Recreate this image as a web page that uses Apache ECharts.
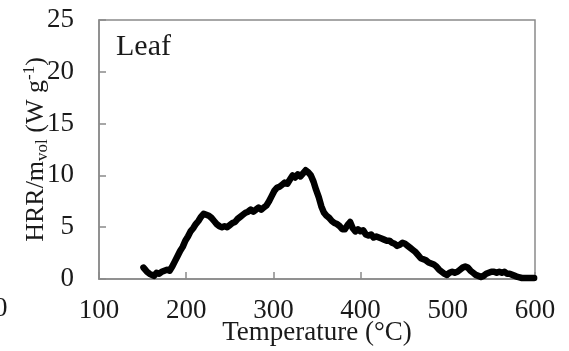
<!DOCTYPE html>
<html>
<head>
<meta charset="utf-8">
<script src="https://cdn.jsdelivr.net/npm/echarts@6/dist/echarts.min.js"></script>
<style>
html,body{margin:0;padding:0;background:#fff;}
#c{width:569px;height:351px;}
</style>
</head>
<body>
<div id="c"></div>
<script>
var temps = [151,153,155,158,160,163,166,169,172,175,178,181,184,187,190,193,196,199,202,205,208,211,214,217,220,223,226,229,232,235,238,241,244,247,250,253,256,259,262,265,268,271,274,277,280,283,286,289,292,295,298,301,304,307,310,313,316,319,322,325,328,331,334,337,340,343,346,349,352,355,358,361,364,367,370,373,376,379,382,385,388,391,394,397,400,403,406,409,412,415,418,421,424,427,430,433,436,439,442,445,448,451,454,457,460,463,466,469,472,475,478,481,484,487,490,493,496,499,502,505,508,511,514,517,520,523,526,529,532,535,538,541,544,547,550,553,556,559,562,565,568,571,574,577,580,585,590,595,599];
var hrr = [1.1,0.9,0.7,0.5,0.4,0.3,0.6,0.5,0.7,0.8,0.9,0.8,1.2,1.7,2.2,2.7,3.1,3.7,4.1,4.6,4.9,5.3,5.6,6.0,6.3,6.2,6.1,5.9,5.6,5.3,5.1,5.0,5.1,5.0,5.2,5.4,5.5,5.8,6.0,6.2,6.4,6.5,6.7,6.5,6.7,6.9,6.7,6.9,7.1,7.5,8.0,8.5,8.8,8.9,9.1,9.3,9.2,9.6,10.0,9.8,10.1,9.9,10.2,10.5,10.3,10.0,9.4,8.6,7.9,7.0,6.4,6.1,5.9,5.6,5.4,5.3,5.1,4.8,4.8,5.2,5.5,4.9,4.6,4.8,4.6,4.7,4.3,4.2,4.3,4.0,4.1,4.0,3.9,3.8,3.7,3.7,3.5,3.4,3.2,3.3,3.5,3.4,3.2,3.0,2.8,2.6,2.3,2.0,1.9,1.8,1.6,1.5,1.4,1.2,0.9,0.7,0.5,0.4,0.6,0.7,0.6,0.7,0.9,1.1,1.2,1.1,0.8,0.6,0.4,0.3,0.2,0.3,0.5,0.6,0.7,0.7,0.6,0.7,0.6,0.7,0.5,0.5,0.4,0.3,0.2,0.1,0.1,0.1,0.1];
var xTicks = [100,200,300,400,500,600];
var yTicks = [0,5,10,15,20,25];
var panelLabel = 'Leaf';
var xTitle = 'Temperature (°C)';

var FONT = '"Liberation Serif", "Times New Roman", serif';
var chart = echarts.init(document.getElementById('c'), null, {renderer:'canvas'});
var data = temps.map(function(t,i){return [t, hrr[i]];});
chart.setOption({
  animation:false,
  backgroundColor:'#fff',
  grid:{left:99,right:34,top:20,bottom:70,show:true,borderColor:'#8a8a8a',borderWidth:1.5,backgroundColor:'transparent'},
  xAxis:{
    type:'value',min:xTicks[0],max:xTicks[xTicks.length-1],interval:100,
    axisLine:{show:true,lineStyle:{color:'#8a8a8a',width:1.5}},
    axisTick:{show:true,inside:true,length:7,lineStyle:{color:'#8a8a8a',width:1.5}},
    splitLine:{show:false},
    axisLabel:{color:'#1a1a1a',fontFamily:FONT,fontSize:27,margin:18},
    name:xTitle,nameLocation:'middle',nameGap:40,nameMoveOverlap:false,
    nameTextStyle:{color:'#1a1a1a',fontFamily:FONT,fontSize:27}
  },
  yAxis:{
    type:'value',min:yTicks[0],max:yTicks[yTicks.length-1],interval:5,
    axisLine:{show:true,lineStyle:{color:'#8a8a8a',width:1.5}},
    axisTick:{show:true,inside:true,length:7,lineStyle:{color:'#8a8a8a',width:1.5}},
    splitLine:{show:false},
    axisLabel:{color:'#1a1a1a',fontFamily:FONT,fontSize:27,margin:25},
    name:'{a|HRR/m}{sub|vol}{a| (W g}{sup|-1}{a|)}',
    nameLocation:'middle',nameGap:48,nameRotate:90,nameMoveOverlap:false,
    nameTextStyle:{
      color:'#1a1a1a',fontFamily:FONT,fontSize:26,
      rich:{
        a:{fontFamily:FONT,fontSize:26,lineHeight:30,color:'#1a1a1a'},
        sub:{fontFamily:FONT,fontSize:17,lineHeight:17,verticalAlign:'bottom',color:'#1a1a1a'},
        sup:{fontFamily:FONT,fontSize:17,lineHeight:17,verticalAlign:'top',color:'#1a1a1a'}
      }
    }
  },
  graphic:[
    {type:'text',left:116,top:32,style:{text:panelLabel,font:'30px '+FONT,fill:'#1a1a1a'}},
    {type:'text',left:-6,top:295,style:{text:'0',font:'27px '+FONT,fill:'#1a1a1a'}}
  ],
  series:[{
    type:'line',data:data,showSymbol:false,symbol:'none',smooth:false,
    lineStyle:{color:'#000',width:6.5,join:'round',cap:'round'},
    clip:true
  }]
});
</script>
</body>
</html>
